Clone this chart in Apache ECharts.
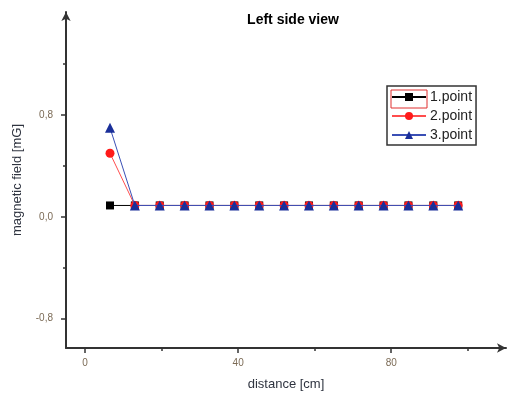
<!DOCTYPE html>
<html>
<head>
<meta charset="utf-8">
<script src="https://cdn.jsdelivr.net/npm/echarts@6/dist/echarts.min.js"></script>
<style>
html, body { margin: 0; padding: 0; background: #fff; }
#chart { width: 508px; height: 400px; }
</style>
</head>
<body>
<div id="chart"></div>
<script>
// 数据
const distance = [6.5, 13, 19.5, 26, 32.5, 39, 45.5, 52, 58.5, 65, 71.5, 78, 84.5, 91, 97.5]
const point1 = [0.09, 0.09, 0.09, 0.09, 0.09, 0.09, 0.09, 0.09, 0.09, 0.09, 0.09, 0.09, 0.09, 0.09, 0.09]
const point2 = [0.5, 0.09, 0.09, 0.09, 0.09, 0.09, 0.09, 0.09, 0.09, 0.09, 0.09, 0.09, 0.09, 0.09, 0.09]
const point3 = [0.7, 0.09, 0.09, 0.09, 0.09, 0.09, 0.09, 0.09, 0.09, 0.09, 0.09, 0.09, 0.09, 0.09, 0.09]
const xMajor = [0, 40, 80]
const xMinor = [20, 60, 100]
const yMajor = [-0.8, 0, 0.8]
const yMinor = [-0.4, 0.4, 1.2]

const myChart = echarts.init(document.getElementById('chart'))
const labelColor = '#7b6a55'
const font = 'Arial, "Liberation Sans", sans-serif'

const pairs = (ys) => distance.map((x, i) => [x, ys[i]])

const option = {
  animation: false,
  title: {
    text: 'Left side view',
    left: 288,
    top: 8,
    textAlign: 'center',
    textStyle: { fontFamily: font, fontSize: 14, fontWeight: 'bold', color: '#000' }
  },
  legend: {
    orient: 'vertical',
    left: 387,
    top: 86,
    padding: [4, 4, 3, 4],
    itemGap: 5,
    itemWidth: 34,
    itemHeight: 10,
    borderColor: '#333',
    borderWidth: 1.5,
    textStyle: { fontFamily: font, fontSize: 14, color: '#222', padding: [0, 0, 0, -1] },
    data: ['1.point', '2.point', '3.point']
  },
  graphic: [{
    type: 'rect',
    shape: { x: 391, y: 90, width: 36, height: 18 },
    style: { fill: 'none', stroke: '#e03030', lineWidth: 1 },
    z: 100
  }],
  grid: { left: 66, right: 2, top: 12, bottom: 52 },
  xAxis: [{
    type: 'value',
    min: -5,
    max: 110,
    name: 'distance [cm]',
    nameLocation: 'middle',
    nameGap: 30,
    nameTextStyle: { fontFamily: font, fontSize: 13, color: '#2f3440' },
    axisLine: { onZero: false, lineStyle: { color: '#333', width: 2 }, symbol: ['none', 'arrow'], symbolSize: [7, 9] },
    axisTick: { customValues: xMajor, length: 5, lineStyle: { color: '#333', width: 1.5 } },
    axisLabel: { customValues: xMajor, fontFamily: font, fontSize: 10, color: labelColor, margin: 10 },
    splitLine: { show: false }
  }, {
    type: 'value',
    position: 'bottom',
    min: -5,
    max: 110,
    axisLine: { show: false, onZero: false },
    axisTick: { customValues: xMinor, length: 3, lineStyle: { color: '#333', width: 1.5 } },
    axisLabel: { show: false },
    splitLine: { show: false }
  }],
  yAxis: [{
    type: 'value',
    min: -1.03,
    max: 1.61,
    name: 'magnetic field [mG]',
    nameLocation: 'middle',
    nameGap: 42,
    nameTextStyle: { fontFamily: font, fontSize: 13, color: '#2f3440' },
    axisLine: { onZero: false, lineStyle: { color: '#333', width: 2 }, symbol: ['none', 'arrow'], symbolSize: [7, 9] },
    axisTick: { customValues: yMajor, length: 5, lineStyle: { color: '#333', width: 1.5 } },
    axisLabel: {
      customValues: yMajor,
      fontFamily: font,
      fontSize: 10,
      color: labelColor,
      margin: 13,
      formatter: (v) => v.toFixed(1).replace('.', ',')
    },
    splitLine: { show: false }
  }, {
    type: 'value',
    position: 'left',
    min: -1.03,
    max: 1.61,
    axisLine: { show: false, onZero: false },
    axisTick: { customValues: yMinor, length: 3, lineStyle: { color: '#333', width: 1.5 } },
    axisLabel: { show: false },
    splitLine: { show: false }
  }],
  series: [{
    name: '1.point',
    type: 'line',
    data: pairs(point1),
    symbol: 'rect',
    symbolSize: 8,
    itemStyle: { color: '#000' },
    lineStyle: { color: '#000', width: 1 },
    z: 2
  }, {
    name: '2.point',
    type: 'line',
    data: pairs(point2),
    symbol: 'circle',
    symbolSize: 9,
    itemStyle: { color: '#ff1a1a' },
    lineStyle: { color: '#ff4d4d', width: 1 },
    z: 3
  }, {
    name: '3.point',
    type: 'line',
    data: pairs(point3),
    symbol: 'triangle',
    symbolSize: 10,
    itemStyle: { color: '#1a2f99' },
    lineStyle: { color: '#3a4fb5', width: 1 },
    z: 4
  }]
}

myChart.setOption(option)
</script>
</body>
</html>
